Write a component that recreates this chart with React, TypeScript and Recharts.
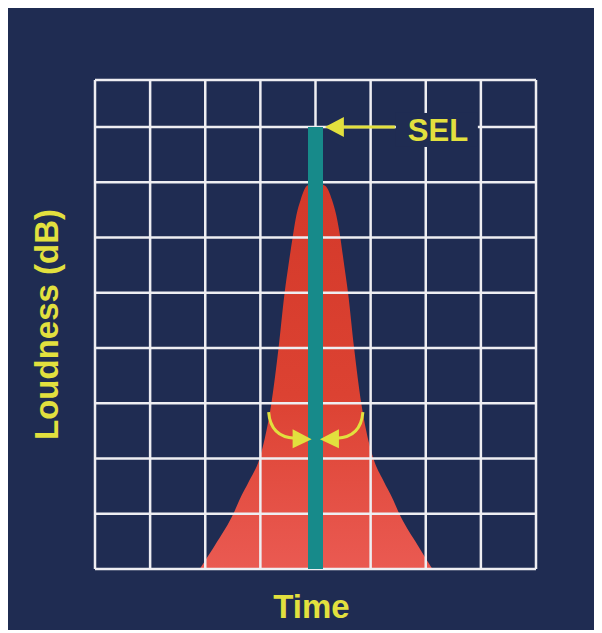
import { AreaChart, Area, XAxis, YAxis, CartesianGrid, ReferenceLine, ReferenceDot, Label } from "recharts";

// Time runs in grid columns (0-8), loudness in grid rows (0 at the bottom line).
const timeValues = [
  1.9, 2.22, 2.51, 2.62, 2.8, 2.985, 3.11, 3.2, 3.33, 3.44, 3.51, 3.585, 3.655, 3.73, 3.84,
  4.0,
  4.18, 4.3, 4.375, 4.45, 4.52, 4.59, 4.7, 4.83, 4.92, 5.05, 5.23, 5.41, 5.52, 5.81, 6.12,
];
const loudnessValues = [
  0, 0.5, 1.0, 1.25, 1.6, 2.0, 2.5, 3.0, 4.0, 5.0, 5.5, 6.0, 6.41, 6.68, 6.93,
  7.0,
  6.93, 6.68, 6.41, 6.0, 5.5, 5.0, 4.0, 3.0, 2.5, 2.0, 1.6, 1.25, 1.0, 0.5, 0,
];
const timeTicks = [0, 1, 2, 3, 4, 5, 6, 7, 8];
const loudnessTicks = [0, 1, 2, 3, 4, 5, 6, 7, 8, 8.85];

const SEL_TIME = 4;
const SEL_LEVEL = 8;

const NAVY = "#1f2c52";
const YELLOW = "#e2e03e";
const TEAL = "#178a8a";
const FONT = "'Liberation Sans', Arial, sans-serif";

const data = timeValues.map((t, i) => ({ time: t, loudness: loudnessValues[i] }));

function SelHead(props: any) {
  const { cx, cy } = props;
  return (
    <g>
      {/* the label sits on a patch of background that hides the grid behind it */}
      <rect x={cx + 71} y={cy - 14} width={82} height={34} fill={NAVY} />
      <polygon points={`${cx},${cy} ${cx + 19},${cy - 10} ${cx + 19},${cy + 10}`} fill={YELLOW} />
      <text x={cx + 83} y={cy + 14} fill={YELLOW} fontFamily={FONT} fontWeight="bold" fontSize={31}>
        SEL
      </text>
    </g>
  );
}

function CurlArrow(props: any) {
  const { cx, cy, side } = props;
  const s = side === "left" ? -1 : 1;
  return (
    <g>
      <path
        d={`M${cx + s * 43},${cy - 27} Q${cx + s * 41},${cy - 2} ${cx + s * 17},${cy - 1}`}
        fill="none"
        stroke={YELLOW}
        strokeWidth={3}
      />
      <polygon
        points={`${cx},${cy} ${cx + s * 19},${cy - 10} ${cx + s * 19},${cy + 9}`}
        fill={YELLOW}
      />
    </g>
  );
}

// ticks must exist for the grid, but nothing is drawn for them
const noTick = () => <g />;

export default function App() {
  return (
    <div style={{ marginLeft: -2, marginTop: -1, width: 594, height: 623, background: NAVY }}>
      <AreaChart width={594} height={623} data={data} margin={{ top: 73, right: 64, bottom: 0, left: 0 }}>
        <defs>
          <linearGradient id="redFill" x1="0" y1="0" x2="0" y2="1">
            <stop offset="0%" stopColor="#d3392a" />
            <stop offset="55%" stopColor="#dc4232" />
            <stop offset="100%" stopColor="#ea5a52" />
          </linearGradient>
        </defs>
        <XAxis
          type="number"
          dataKey="time"
          domain={[0, 8]}
          ticks={timeTicks}
          interval={0}
          tick={noTick}
          axisLine={false}
          tickLine={false}
          height={61}
        >
          <Label
            value="Time"
            position="insideBottom"
            offset={12}
            dx={-4}
            fill={YELLOW}
            fontFamily={FONT}
            fontWeight="bold"
            fontSize={33}
          />
        </XAxis>
        <YAxis
          type="number"
          domain={[0, 8.85]}
          ticks={loudnessTicks}
          interval={0}
          tick={noTick}
          axisLine={false}
          tickLine={false}
          width={89}
        >
          <Label
            value="Loudness (dB)"
            angle={-90}
            position="center"
            dx={-4}
            fill={YELLOW}
            fontFamily={FONT}
            fontWeight="bold"
            fontSize={33}
          />
        </YAxis>
        <Area
          type="monotone"
          dataKey="loudness"
          stroke="none"
          fill="url(#redFill)"
          fillOpacity={1}
          isAnimationActive={false}
        />
        <CartesianGrid stroke="#eeeef2" strokeWidth={2.5} zIndex={150} />
        <ReferenceLine
          segment={[{ x: SEL_TIME, y: 0 }, { x: SEL_TIME, y: SEL_LEVEL }]}
          stroke={TEAL}
          strokeWidth={15}
          zIndex={200}
        />
        <ReferenceLine
          segment={[{ x: 4.5, y: SEL_LEVEL }, { x: 5.44, y: SEL_LEVEL }]}
          stroke={YELLOW}
          strokeWidth={3}
          zIndex={210}
        />
        <ReferenceDot x={4.17} y={SEL_LEVEL} r={1} shape={SelHead} zIndex={220} />
        <ReferenceDot x={3.93} y={2.35} r={1} shape={(p: any) => <CurlArrow {...p} side="left" />} zIndex={220} />
        <ReferenceDot x={4.08} y={2.35} r={1} shape={(p: any) => <CurlArrow {...p} side="right" />} zIndex={220} />
      </AreaChart>
    </div>
  );
}
